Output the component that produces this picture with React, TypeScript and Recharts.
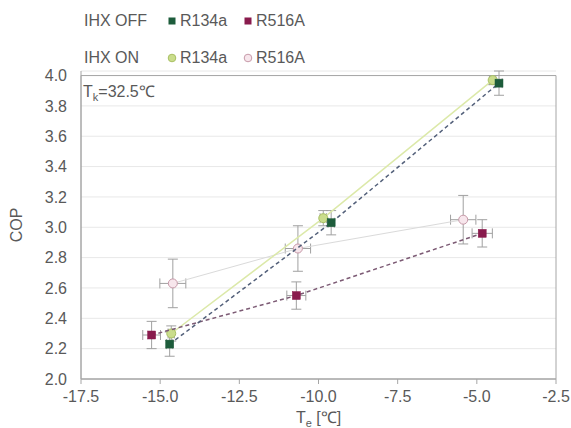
import React from "react";
import {
  CartesianGrid,
  ErrorBar,
  ReferenceArea,
  Scatter,
  ScatterChart,
  XAxis,
  YAxis,
} from "recharts";

// Te [°C], COP y barras de incertidumbre
const offR134aT = [-14.7, -9.6, -4.3];
const offR134aCop = [2.23, 3.03, 3.95];
const offR134aEx = [0.1, 0.1, 0.1];
const offR134aEy = [0.08, 0.08, 0.08];

const offR516aT = [-15.27, -10.7, -4.83];
const offR516aCop = [2.29, 2.55, 2.96];
const offR516aEx = [0.28, 0.3, 0.32];
const offR516aEy = [0.09, 0.09, 0.09];

const onR134aT = [-14.65, -9.85, -4.5];
const onR134aCop = [2.3, 3.06, 3.97];
const onR134aEx = [0.1, 0.1, 0.1];
const onR134aEy = [0.05, 0.05, 0.03];

const onR516aT = [-14.6, -10.65, -5.43];
const onR516aCop = [2.63, 2.86, 3.05];
const onR516aEx = [0.41, 0.4, 0.4];
const onR516aEy = [0.16, 0.15, 0.16];

const xTicks = [-17.5, -15, -12.5, -10, -7.5, -5, -2.5];
const yTicks = [2.0, 2.2, 2.4, 2.6, 2.8, 3.0, 3.2, 3.4, 3.6, 3.8, 4.0];

const FONT = "'Liberation Sans', Arial, sans-serif";
const TEXT = "#595959";
const FRAME = "#a6a6a6";
const ERR = "#a0a0a0";

const C_OFF_134 = "#1d5c3b";
const C_OFF_516 = "#891b4d";
const C_ON_134 = "#cadd8c";
const C_ON_516 = "#f7e6ec";

function rows(t: number[], cop: number[], ex: number[], ey: number[]) {
  return t.map((x, i) => ({ t: x, cop: cop[i], ex: ex[i], ey: ey[i] }));
}

const squareShape = (fill: string) => (p: any) =>
  <rect x={p.cx - 4} y={p.cy - 4} width={8} height={8} fill={fill} stroke={fill} strokeWidth={0.5} />;

const circleShape = (fill: string, stroke: string) => (p: any) =>
  <circle cx={p.cx} cy={p.cy} r={4.5} fill={fill} stroke={stroke} strokeWidth={1} />;

function LegendMark({ kind, fill, stroke }: { kind: "sq" | "ci"; fill: string; stroke?: string }) {
  return (
    <svg width={10} height={10} style={{ marginRight: 3 }}>
      {kind === "sq" ? (
        <rect x={1.5} y={1.5} width={7} height={7} fill={fill} />
      ) : (
        <circle cx={5} cy={5} r={3.8} fill={fill} stroke={stroke} strokeWidth={1} />
      )}
    </svg>
  );
}

export default function App() {
  const txt: React.CSSProperties = { position: "absolute", fontFamily: FONT, fontSize: 16, color: TEXT, lineHeight: "16px", whiteSpace: "nowrap" };
  const item: React.CSSProperties = { ...txt, display: "flex", alignItems: "center" };
  return (
    <div style={{ position: "relative", width: 571, height: 428, background: "#fff" }}>
      <style>{"body{margin:0}"}</style>
      <ScatterChart width={571} height={428} margin={{ top: 71, right: 15, bottom: 0, left: 0 }}>
        <CartesianGrid vertical={false} stroke="#e8e8e8" />
        <XAxis
          type="number"
          dataKey="t"
          domain={[-17.5, -2.5]}
          ticks={xTicks}
          tickFormatter={(v: number) => v.toFixed(1)}
          height={49}
          tick={{ fill: TEXT, fontSize: 16, fontFamily: FONT }}
          tickSize={5}
          tickMargin={7}
          axisLine={{ stroke: FRAME }}
          tickLine={{ stroke: FRAME }}
          label={{
            content: (p: any) => {
              const vb = p.viewBox || { x: 81, width: 475 };
              return (
                <text x={vb.x + vb.width / 2} y={423} textAnchor="middle" fill={TEXT} fontSize={16} fontFamily={FONT}>
                  T<tspan dy={4} fontSize={11}>e</tspan>
                  <tspan dy={-4}> [℃]</tspan>
                </text>
              );
            },
          }}
        />
        <YAxis
          type="number"
          dataKey="cop"
          domain={[2, 4]}
          ticks={yTicks}
          tickFormatter={(v: number) => v.toFixed(1)}
          width={81}
          tick={{ fill: TEXT, fontSize: 16, fontFamily: FONT }}
          tickLine={false}
          tickSize={0}
          tickMargin={14}
          axisLine={{ stroke: FRAME }}
          label={{
            content: () => (
              <text x={16} y={225} transform="rotate(-90 16 225)" textAnchor="middle" dominantBaseline="central" fill={TEXT} fontSize={16} fontFamily={FONT}>
                COP
              </text>
            ),
          }}
        />
        <ReferenceArea x1={-17.5} x2={-2.5} y1={2} y2={4} fill="none" stroke={FRAME} strokeWidth={1} />

        <Scatter
          data={rows(onR516aT, onR516aCop, onR516aEx, onR516aEy)}
          line={{ stroke: "#dadada", strokeWidth: 1 }}
          lineType="joint"
          shape={circleShape(C_ON_516, "#c79aa9")}
          isAnimationActive={false}
        >
          <ErrorBar dataKey="ey" direction="y" width={5} stroke={ERR} strokeWidth={1} />
          <ErrorBar dataKey="ex" direction="x" width={5} stroke={ERR} strokeWidth={1} />
        </Scatter>
        <Scatter
          data={rows(onR134aT, onR134aCop, onR134aEx, onR134aEy)}
          line={{ stroke: "#dce9a9", strokeWidth: 1.5 }}
          lineType="joint"
          shape={circleShape(C_ON_134, "#a9c063")}
          isAnimationActive={false}
        >
          <ErrorBar dataKey="ey" direction="y" width={5} stroke={ERR} strokeWidth={1} />
          <ErrorBar dataKey="ex" direction="x" width={5} stroke={ERR} strokeWidth={1} />
        </Scatter>
        <Scatter
          data={rows(offR516aT, offR516aCop, offR516aEx, offR516aEy)}
          line={{ stroke: "#7c5a74", strokeWidth: 1.5, strokeDasharray: "4 3" }}
          lineType="joint"
          shape={squareShape(C_OFF_516)}
          isAnimationActive={false}
        >
          <ErrorBar dataKey="ey" direction="y" width={5} stroke={ERR} strokeWidth={1} />
          <ErrorBar dataKey="ex" direction="x" width={5} stroke={ERR} strokeWidth={1} />
        </Scatter>
        <Scatter
          data={rows(offR134aT, offR134aCop, offR134aEx, offR134aEy)}
          line={{ stroke: "#53607a", strokeWidth: 1.5, strokeDasharray: "4 3" }}
          lineType="joint"
          shape={squareShape(C_OFF_134)}
          isAnimationActive={false}
        >
          <ErrorBar dataKey="ey" direction="y" width={5} stroke={ERR} strokeWidth={1} />
          <ErrorBar dataKey="ex" direction="x" width={5} stroke={ERR} strokeWidth={1} />
        </Scatter>
      </ScatterChart>

      {/* leyenda en dos filas, como en el original */}
      <div style={{ ...txt, left: 84, top: 13 }}>IHX OFF</div>
      <div style={{ ...item, left: 167, top: 13 }}>
        <LegendMark kind="sq" fill={C_OFF_134} />R134a
      </div>
      <div style={{ ...item, left: 243, top: 13 }}>
        <LegendMark kind="sq" fill={C_OFF_516} />R516A
      </div>
      <div style={{ ...txt, left: 84, top: 50 }}>IHX ON</div>
      <div style={{ ...item, left: 167, top: 50 }}>
        <LegendMark kind="ci" fill={C_ON_134} stroke="#a9c063" />R134a
      </div>
      <div style={{ ...item, left: 243, top: 50 }}>
        <LegendMark kind="ci" fill={C_ON_516} stroke="#c79aa9" />R516A
      </div>

      <div style={{ ...txt, left: 83, top: 84 }}>
        T<sub style={{ fontSize: 11, verticalAlign: "-4px" }}>k</sub>=32.5℃
      </div>
    </div>
  );
}
